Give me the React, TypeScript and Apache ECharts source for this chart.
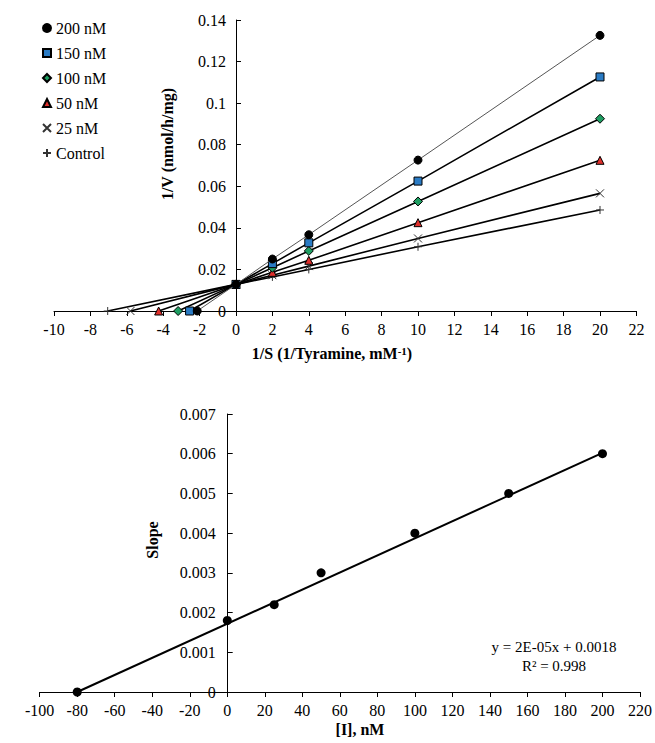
import React, { useEffect, useRef } from "react";
import * as echarts from "echarts";

// ---- Top chart (Lineweaver-Burk) data ----
const seriesNames = ["200 nM", "150 nM", "100 nM", "50 nM", "25 nM", "Control"];
const xIntercepts = [-2.13, -2.55, -3.18, -4.25, -5.8, -7.05];
const substrateX = [0, 2, 4, 10, 20];
const v200 = [0.0128, 0.025, 0.0367, 0.0726, 0.1326];
const v150 = [0.0128, 0.0228, 0.0328, 0.0625, 0.1126];
const v100 = [0.0128, 0.0208, 0.0289, 0.0527, 0.0925];
const v50 = [0.0128, 0.0186, 0.0244, 0.0425, 0.0725];
const v25 = [0.0128, 0.0172, 0.0216, 0.0349, 0.0566];
const vControl = [0.0128, 0.0164, 0.02, 0.0309, 0.0486];
const topYValues = [v200, v150, v100, v50, v25, vControl];

// ---- Bottom chart (secondary plot) data ----
const inhibitorConc = [-80, 0, 25, 50, 100, 150, 200];
const slopeValues = [0, 0.0018, 0.0022, 0.003, 0.004, 0.005, 0.006];
const trendX = [-80, 200];
const trendY = [0, 0.00602];
const equationLines = ["y = 2E-05x + 0.0018", "R² = 0.998"];

const FONT = "'Liberation Serif', 'Times New Roman', serif";

const symbols = [
  "circle",
  "rect",
  "diamond",
  "triangle",
  "path://M0,0L10,10M10,0L0,10",
  "path://M5,0L5,10M0,5L10,5",
];
const fills = ["#000000", "#2a7bc4", "#1f9e62", "#e0302c", "transparent", "transparent"];
const borders = ["#000000", "#000000", "#000000", "#000000", "#333333", "#333333"];

export default function App() {
  const ref = useRef<HTMLDivElement>(null);
  useEffect(() => {
    if (!ref.current) return;
    const chart = echarts.init(ref.current, undefined, { renderer: "svg" });

    const topSeries = seriesNames.map((name, i) => ({
      name,
      type: "line",
      xAxisIndex: 0,
      yAxisIndex: 0,
      data: [[xIntercepts[i], 0], ...substrateX.map((x, j) => [x, topYValues[i][j]])],
      symbol: symbols[i],
      symbolSize: i === 2 ? 9 : 8,
      showSymbol: true,
      itemStyle: { color: fills[i], borderColor: borders[i], borderWidth: 1, opacity: 1 },
      lineStyle: { color: i === 0 ? "#555555" : "#000000", width: i === 0 ? 1 : 1.6 },
      z: 10 - i,
    }));

    const axisLabel = { fontFamily: FONT, fontSize: 16, color: "#000" };

    chart.setOption({
      animation: false,
      backgroundColor: "#ffffff",
      legend: {
        orient: "vertical",
        left: 37,
        top: 15,
        itemWidth: 8,
        itemHeight: 8,
        itemGap: 9,
        textStyle: { fontFamily: FONT, fontSize: 16, color: "#000", lineHeight: 16 },
        data: seriesNames.map((n, i) => ({ name: n, icon: symbols[i] })),
      },
      grid: [
        { left: 54, right: 18.6, top: 20, bottom: 432 },
        { left: 39.7, right: 13.7, top: 414, bottom: 51 },
      ],
      xAxis: [
        {
          type: "value",
          gridIndex: 0,
          min: -10,
          max: 22,
          interval: 2,
          splitLine: { show: false },
          axisLine: { onZero: false, lineStyle: { color: "#000", width: 1 } },
          axisTick: { inside: false, length: 5, lineStyle: { color: "#000" } },
          axisLabel: { ...axisLabel, margin: 10 },
        },
        {
          type: "value",
          gridIndex: 1,
          min: -100,
          max: 220,
          interval: 20,
          splitLine: { show: false },
          axisLine: { onZero: false, lineStyle: { color: "#000", width: 1 } },
          axisTick: { inside: false, length: 5, lineStyle: { color: "#000" } },
          axisLabel: { ...axisLabel, margin: 10 },
        },
      ],
      yAxis: [
        {
          type: "value",
          gridIndex: 0,
          position: "left",
          offset: -182,
          min: 0,
          max: 0.14,
          interval: 0.02,
          splitLine: { show: false },
          axisLine: { show: true, onZero: false, lineStyle: { color: "#000", width: 1 } },
          axisTick: { show: true, inside: true, length: 5, lineStyle: { color: "#000" } },
          axisLabel: {
            ...axisLabel,
            margin: 10,
            formatter: (v: number) => String(parseFloat(v.toFixed(3))),
          },
        },
        {
          type: "value",
          gridIndex: 1,
          position: "left",
          offset: -188,
          min: 0,
          max: 0.007,
          interval: 0.001,
          splitLine: { show: false },
          axisLine: { show: true, onZero: false, lineStyle: { color: "#000", width: 1 } },
          axisTick: { show: true, inside: true, length: 5, lineStyle: { color: "#000" } },
          axisLabel: {
            ...axisLabel,
            margin: 12,
            formatter: (v: number) => (v === 0 ? "0" : v.toFixed(3)),
          },
        },
      ],
      series: [
        ...topSeries,
        {
          name: "Trendline",
          type: "line",
          xAxisIndex: 1,
          yAxisIndex: 1,
          data: trendX.map((x, i) => [x, trendY[i]]),
          showSymbol: false,
          symbol: "none",
          lineStyle: { color: "#000", width: 2 },
          z: 3,
        },
        {
          name: "Slope",
          type: "scatter",
          xAxisIndex: 1,
          yAxisIndex: 1,
          data: inhibitorConc.map((x, i) => [x, slopeValues[i]]),
          symbol: "circle",
          symbolSize: 9,
          itemStyle: { color: "#000", opacity: 1 },
          z: 5,
        },
      ],
      graphic: [
        {
          type: "text",
          x: 167,
          y: 144,
          rotation: Math.PI / 2,
          style: {
            text: "1/V (nmol/h/mg)",
            font: `bold 16px ${FONT}`,
            fill: "#000",
            align: "center",
            verticalAlign: "middle",
          },
        },
        {
          type: "text",
          x: 332,
          y: 353,
          style: {
            text: "1/S (1/Tyramine, mM{sup|-1})",
            font: `bold 16px ${FONT}`,
            fill: "#000",
            align: "center",
            verticalAlign: "middle",
            rich: {
              sup: {
                fontFamily: FONT,
                fontWeight: "bold",
                fontSize: 11,
                verticalAlign: "top",
                lineHeight: 16,
              },
            },
          },
        },
        {
          type: "text",
          x: 152,
          y: 540,
          rotation: Math.PI / 2,
          style: {
            text: "Slope",
            font: `bold 16px ${FONT}`,
            fill: "#000",
            align: "center",
            verticalAlign: "middle",
          },
        },
        {
          type: "text",
          x: 360,
          y: 729,
          style: {
            text: "[I], nM",
            font: `bold 16px ${FONT}`,
            fill: "#000",
            align: "center",
            verticalAlign: "middle",
          },
        },
        {
          type: "text",
          x: 554,
          y: 647,
          style: {
            text: equationLines[0],
            font: `15px ${FONT}`,
            fill: "#000",
            align: "center",
            verticalAlign: "middle",
          },
        },
        {
          type: "text",
          x: 554,
          y: 666,
          style: {
            text: equationLines[1],
            font: `15px ${FONT}`,
            fill: "#000",
            align: "center",
            verticalAlign: "middle",
          },
        },
      ],
    });
    return () => chart.dispose();
  }, []);
  return (
    <div
      ref={ref}
      style={{ position: "fixed", left: 0, top: 0, width: 655, height: 743, background: "#fff" }}
    />
  );
}
